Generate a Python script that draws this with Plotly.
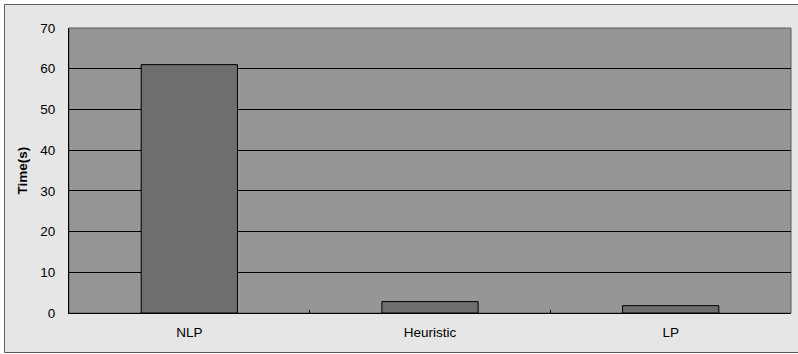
import plotly.graph_objects as go

# Solver run times by method
methods = ["NLP", "Heuristic", "LP"]
times = [61.0, 2.8, 1.8]
y_ticks = [0, 10, 20, 30, 40, 50, 60, 70]

W, H = 798, 354
L, R, T, B = 69, 7, 28, 41
pw, ph = W - L - R, H - T - B

def px_x(p):
    return (p - L) / pw

def px_y(p):
    return (H - B - p) / ph

fig = go.Figure(
    go.Bar(
        x=methods,
        y=times,
        width=0.4,
        marker=dict(color="#6e6e6e", line=dict(color="#000000", width=1)),
    )
)

shapes = [
    # outer chart frame
    dict(type="rect", xref="paper", yref="paper", layer="below",
         x0=px_x(4.5), x1=px_x(803), y0=px_y(352.5), y1=px_y(4.5),
         fillcolor="#e6e6e6", line=dict(color="#5a5a5a", width=1)),
    # plot area background
    dict(type="rect", xref="paper", yref="paper", layer="below",
         x0=0, x1=1, y0=0, y1=1,
         fillcolor="#969696", line=dict(color="#5a5a5a", width=1)),
]

fig.update_layout(
    width=W, height=H,
    margin=dict(l=L, r=R, t=T, b=B),
    paper_bgcolor="#ffffff",
    plot_bgcolor="rgba(0,0,0,0)",
    font=dict(family="Liberation Sans, Arial, sans-serif", size=13.5, color="#000000"),
    showlegend=False,
    shapes=shapes,
    bargap=0.6,
    xaxis=dict(
        type="category",
        showline=True, linecolor="#000000", linewidth=1,
        ticks="inside", ticklen=3, tickcolor="#000000",
        tickson="boundaries",
        showgrid=False,
        ticklabelstandoff=7,
    ),
    yaxis=dict(
        range=[0, 70],
        tickvals=y_ticks,
        showline=True, linecolor="#000000", linewidth=1,
        showgrid=True, gridcolor="#000000", gridwidth=1,
        ticks="", ticklabelstandoff=10,
        zeroline=False,
    ),
    annotations=[
        dict(text="<b>Time(s)</b>", xref="paper", yref="paper",
             x=px_x(22), y=0.5, xanchor="center", yanchor="middle",
             textangle=-90, showarrow=False,
             font=dict(size=13.5)),
    ],
)

fig.write_html("out.html")
